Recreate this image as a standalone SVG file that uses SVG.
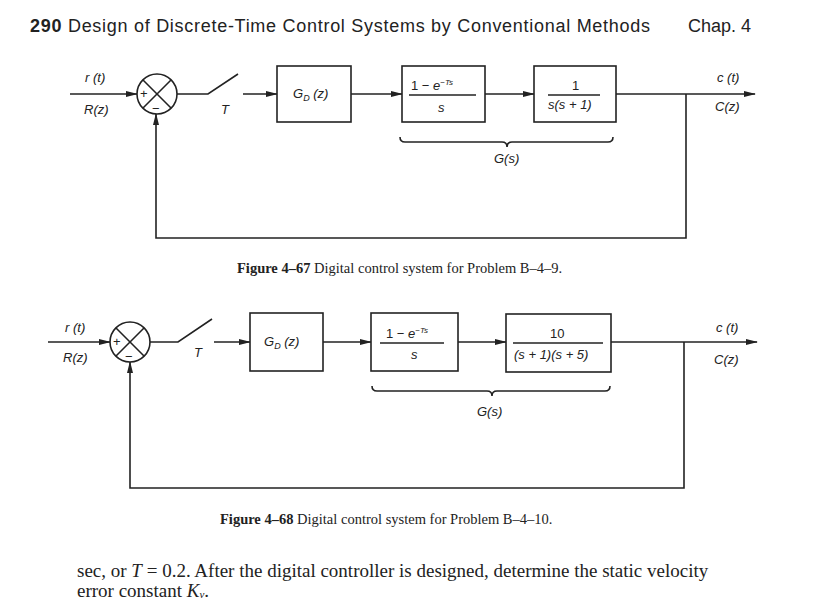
<svg xmlns="http://www.w3.org/2000/svg" width="829" height="602" viewBox="0 0 829 602">
<defs>
<marker id="a" markerWidth="12" markerHeight="8" refX="11" refY="4" orient="auto" markerUnits="userSpaceOnUse"><path d="M0,1 L12,4 L0,7 Z" fill="#222"/></marker>
<style>
.l{stroke:#222;stroke-width:1.6;fill:none}
.b{stroke:#222;stroke-width:1.6;fill:#fff}
.t{font-family:"Liberation Sans",Arial,sans-serif;font-size:13px;font-style:italic;fill:#222}
.n{font-family:"Liberation Sans",Arial,sans-serif;font-size:13px;fill:#222}
.c{font-family:"Liberation Serif",serif;font-size:14.5px;fill:#222}
</style>
</defs>
<rect width="829" height="602" fill="#fff"/>
<text x="30" y="32" font-family="'Liberation Sans',Arial,sans-serif" font-size="18" fill="#222" textLength="620"><tspan font-weight="bold">290</tspan> Design of Discrete-Time Control Systems by Conventional Methods</text>
<text x="688" y="32" font-family="'Liberation Sans',Arial,sans-serif" font-size="18" fill="#222">Chap. 4</text>

<g id="connectors">
<line class="l" x1="70" y1="94" x2="137" y2="94" marker-end="url(#a)"/>
<polyline class="l" points="177,94 208,94 238,74"/>
<line class="l" x1="243" y1="94" x2="277" y2="94" marker-end="url(#a)"/>
<line class="l" x1="351" y1="94" x2="402" y2="94" marker-end="url(#a)"/>
<line class="l" x1="485" y1="94" x2="534" y2="94" marker-end="url(#a)"/>
<line class="l" x1="616" y1="94" x2="755" y2="94" marker-end="url(#a)"/>
<polyline class="l" points="686,94 686,238 156,238 156,114" marker-end="url(#a)"/>
<path class="l" stroke-width="1.2" d="M400,137 Q400,142 405,142 L502,142 Q507,142 507,147 Q507,142 512,142 L608,142 Q613,142 613,137"/>

<line class="l" x1="48" y1="342" x2="110" y2="342" marker-end="url(#a)"/>
<polyline class="l" points="150,342 178,342 212,319"/>
<line class="l" x1="214" y1="342" x2="250" y2="342" marker-end="url(#a)"/>
<line class="l" x1="323" y1="342" x2="371" y2="342" marker-end="url(#a)"/>
<line class="l" x1="458" y1="342" x2="506" y2="342" marker-end="url(#a)"/>
<line class="l" x1="611" y1="342" x2="757" y2="342" marker-end="url(#a)"/>
<polyline class="l" points="684,342 684,488 130,488 130,362" marker-end="url(#a)"/>
<path class="l" stroke-width="1.2" d="M372,386 Q372,391 377,391 L487,391 Q492,391 492,396 Q492,391 497,391 L605,391 Q610,391 610,386"/>
</g>

<g id="sum1"><circle class="b" cx="157" cy="94" r="20"/><line class="l" x1="143" y1="80" x2="171" y2="108"/><line class="l" x1="171" y1="80" x2="143" y2="108"/><text class="n" x="140" y="98" font-size="13">+</text><text class="n" x="152" y="113" font-size="13">−</text></g>
<g id="labels1"><text class="t" x="85" y="82">r (t)</text><text class="t" x="84" y="114">R(z)</text><text class="t" x="221" y="114">T</text><text class="t" x="717" y="82">c (t)</text><text class="t" x="715" y="111">C(z)</text><text class="t" x="494" y="163">G(s)</text></g>
<g id="gd1"><rect class="b" x="277" y="66" width="74" height="56"/><text class="t" x="293" y="98">G<tspan font-size="9" dy="3">D</tspan><tspan dy="-3"> (z)</tspan></text></g>
<g id="zoh1"><rect class="b" x="402" y="66" width="83" height="56"/><text class="n" x="411" y="90">1 −  <tspan font-style="italic">e</tspan><tspan font-style="italic" font-size="8" dy="-5">−Ts</tspan></text><line class="l" stroke-width="1" x1="409" y1="95" x2="476" y2="95"/><text class="t" x="438" y="112">s</text></g>
<g id="plant1"><rect class="b" x="534" y="66" width="82" height="56"/><text class="n" x="572" y="90">1</text><line class="l" stroke-width="1" x1="548" y1="95" x2="600" y2="95"/><text class="t" x="548" y="109">s(s + 1)</text></g>
<text class="c" x="237" y="273"><tspan font-weight="bold">Figure 4–67</tspan>   Digital control system for Problem B–4–9.</text>

<g id="sum2"><circle class="b" cx="130" cy="342" r="20"/><line class="l" x1="116" y1="328" x2="144" y2="356"/><line class="l" x1="144" y1="328" x2="116" y2="356"/><text class="n" x="113" y="346" font-size="13">+</text><text class="n" x="125" y="361" font-size="13">−</text></g>
<g id="labels2"><text class="t" x="65" y="332">r (t)</text><text class="t" x="63" y="362">R(z)</text><text class="t" x="194" y="357">T</text><text class="t" x="716" y="332">c (t)</text><text class="t" x="714" y="364">C(z)</text><text class="t" x="477" y="416">G(s)</text></g>
<g id="gd2"><rect class="b" x="250" y="313" width="73" height="58"/><text class="t" x="264" y="346">G<tspan font-size="9" dy="3">D</tspan><tspan dy="-3"> (z)</tspan></text></g>
<g id="zoh2"><rect class="b" x="371" y="313" width="87" height="58"/><text class="n" x="386" y="338">1 − <tspan font-style="italic">e</tspan><tspan font-style="italic" font-size="8" dy="-5">−Ts</tspan></text><line class="l" stroke-width="1" x1="380" y1="343" x2="444" y2="343"/><text class="t" x="411" y="359">s</text></g>
<g id="plant2"><rect class="b" x="506" y="314" width="105" height="58"/><text class="n" x="550" y="338">10</text><line class="l" stroke-width="1" x1="513" y1="343" x2="603" y2="343"/><text class="t" x="514" y="359">(s + 1)(s + 5)</text></g>
<text class="c" x="220" y="524"><tspan font-weight="bold">Figure 4–68</tspan>   Digital control system for Problem B–4–10.</text>

<text x="77" y="577" font-family="'Liberation Serif',serif" font-size="19" fill="#222">sec, or <tspan font-style="italic">T</tspan> = 0.2. After the digital controller is designed, determine the static velocity</text>
<text x="77" y="597" font-family="'Liberation Serif',serif" font-size="19" fill="#222">error constant <tspan font-style="italic">K</tspan><tspan font-style="italic" font-size="11" dy="1">v</tspan><tspan dy="-1">.</tspan></text>
</svg>
